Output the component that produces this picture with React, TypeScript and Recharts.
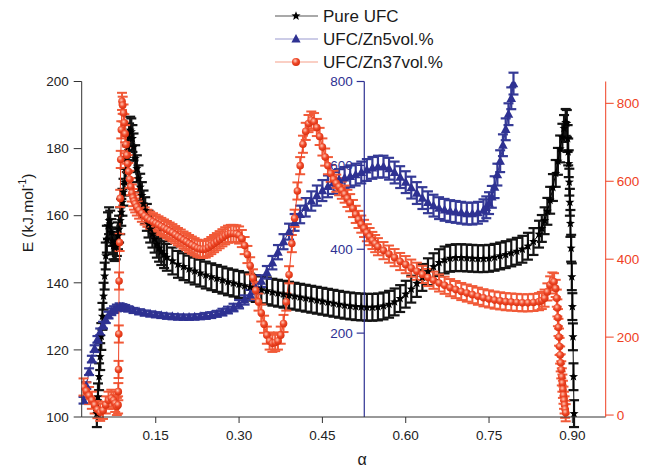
import React from 'react';
import { ComposedChart, Line, XAxis, YAxis, ErrorBar, ReferenceLine } from 'recharts';

// [alpha, E (kJ/mol)], left axis
const PURE_UFC: [number, number][] = [
  [0.044, 101], [0.046, 106], [0.048, 112], [0.05, 118], [0.052, 124], [0.054, 130], [0.056, 136],
  [0.058, 142], [0.06, 148], [0.062, 153], [0.064, 157], [0.066, 158.5], [0.068, 157.5], [0.07, 155],
  [0.072, 152.5], [0.074, 151], [0.076, 150.5], [0.078, 151], [0.08, 152], [0.082, 154], [0.084, 156],
  [0.086, 158.5], [0.088, 161], [0.09, 164], [0.092, 167], [0.094, 170], [0.096, 173.5], [0.098, 177],
  [0.1, 180.5], [0.102, 183.5], [0.104, 185.5], [0.106, 185], [0.108, 183], [0.11, 180.5], [0.113, 177],
  [0.116, 174], [0.119, 171], [0.122, 168.5], [0.125, 166], [0.128, 163.5], [0.131, 161.5], [0.134, 159.5],
  [0.137, 157.5], [0.14, 156], [0.144, 154.5], [0.148, 153], [0.152, 151.5], [0.156, 150.3], [0.16, 149.3],
  [0.165, 148.4], [0.17, 147.6], [0.18, 146.5], [0.19, 145.5], [0.2, 144.8], [0.21, 144.1], [0.22, 143.5],
  [0.23, 142.9], [0.24, 142.3], [0.25, 141.8], [0.26, 141.3], [0.27, 140.8], [0.28, 140.3], [0.29, 139.9],
  [0.3, 139.5], [0.31, 139.1], [0.32, 138.7], [0.33, 138.3], [0.34, 137.9], [0.35, 137.6], [0.36, 137.2],
  [0.37, 136.9], [0.38, 136.6], [0.39, 136.3], [0.4, 136], [0.41, 135.7], [0.42, 135.4], [0.43, 135.1],
  [0.44, 134.8], [0.45, 134.5], [0.46, 134.2], [0.47, 133.9], [0.48, 133.6], [0.49, 133.3], [0.5, 133.1],
  [0.51, 132.9], [0.52, 132.8], [0.53, 132.7], [0.54, 132.7], [0.55, 132.8], [0.56, 133.1], [0.57, 133.6],
  [0.58, 134.3], [0.59, 135.3], [0.6, 136.6], [0.61, 138.1], [0.62, 139.8], [0.63, 141.6], [0.64, 143.3],
  [0.65, 144.8], [0.66, 146], [0.67, 146.8], [0.68, 147.3], [0.69, 147.5], [0.7, 147.5], [0.71, 147.4],
  [0.72, 147.3], [0.73, 147.2], [0.74, 147.2], [0.75, 147.3], [0.76, 147.6], [0.77, 148], [0.78, 148.4],
  [0.79, 148.9], [0.8, 149.4], [0.81, 150], [0.82, 150.9], [0.83, 152.3], [0.84, 154.5], [0.845, 156.2],
  [0.85, 158.5], [0.855, 161.3], [0.86, 164.6], [0.865, 168.4], [0.87, 172.6], [0.874, 176.2], [0.878, 179.9],
  [0.882, 183.4], [0.885, 186], [0.888, 187.8], [0.89, 187.5], [0.8915, 183], [0.8925, 179], [0.8935, 175.5],
  [0.8945, 170], [0.8955, 164], [0.8965, 157.7], [0.8978, 150.3], [0.899, 141.8], [0.9, 132.9], [0.901, 123.9],
  [0.902, 112], [0.903, 101],
];

// [alpha, E, error] on the middle (blue) axis
const UFC_ZN5: [number, number, number][] = [
  [0.02, 40, 8], [0.025, 75, 8], [0.03, 108, 8], [0.035, 138, 8], [0.04, 163, 8], [0.045, 185, 8],
  [0.05, 203, 8], [0.055, 219, 8], [0.06, 232, 8], [0.065, 243, 8], [0.07, 251, 8], [0.075, 256, 8],
  [0.08, 260, 8], [0.085, 263, 8], [0.09, 262, 7], [0.095, 260, 7], [0.1, 258, 6], [0.11, 254, 6],
  [0.12, 251, 6], [0.13, 248, 6], [0.14, 246, 6], [0.15, 244, 6], [0.16, 242, 6], [0.17, 240.5, 6],
  [0.18, 239.5, 6], [0.19, 238.5, 6], [0.2, 238, 6], [0.21, 238, 6], [0.22, 238.5, 6], [0.23, 239.5, 6],
  [0.24, 241, 7], [0.25, 243, 7], [0.26, 246, 7], [0.27, 250, 8], [0.28, 255, 8], [0.29, 261, 9],
  [0.3, 269, 10], [0.31, 279, 11], [0.32, 291, 12], [0.33, 306, 13], [0.34, 324, 14], [0.35, 345, 15],
  [0.36, 368, 16], [0.37, 393, 17], [0.38, 418, 18], [0.39, 442, 19], [0.4, 464, 20], [0.41, 483, 21],
  [0.42, 500, 22], [0.43, 515, 23], [0.44, 528, 24], [0.45, 540, 25], [0.46, 550, 26], [0.47, 558, 26],
  [0.48, 565, 26], [0.49, 570, 26], [0.5, 574, 26], [0.51, 578, 26], [0.52, 583, 26], [0.53, 589, 26],
  [0.54, 594, 26], [0.55, 597, 26], [0.56, 597, 26], [0.57, 592, 26], [0.58, 583, 26], [0.59, 572, 26],
  [0.6, 560, 26], [0.61, 547, 26], [0.62, 534, 26], [0.63, 522, 26], [0.64, 512, 26], [0.65, 504, 26],
  [0.66, 498, 26], [0.67, 494, 26], [0.68, 491, 26], [0.69, 489, 26], [0.7, 487, 26], [0.71, 485, 26],
  [0.72, 485, 26], [0.73, 487, 26], [0.74, 493, 26], [0.745, 500, 26], [0.75, 510, 26], [0.755, 525, 26],
  [0.76, 548, 26], [0.765, 578, 26], [0.77, 610, 26], [0.775, 648, 26], [0.78, 686, 26], [0.785, 722, 26],
  [0.79, 760, 26], [0.794, 795, 26],
];

// [alpha, E] on the right (red) axis
const UFC_ZN37: [number, number][] = [
  [0.02, 72], [0.025, 62], [0.03, 50], [0.035, 38], [0.04, 26], [0.045, 14], [0.05, 7], [0.055, 12],
  [0.06, 26], [0.065, 38], [0.07, 43], [0.074, 38], [0.077, 30], [0.08, 22], [0.0822, 26], [0.0826, 60],
  [0.083, 117], [0.0835, 208], [0.084, 344], [0.085, 443], [0.086, 556], [0.087, 656], [0.088, 732],
  [0.0893, 805], [0.0905, 795], [0.092, 775], [0.0935, 750], [0.095, 722], [0.0965, 694], [0.098, 667],
  [0.0995, 645], [0.101, 625], [0.103, 605], [0.105, 586], [0.107, 570], [0.109, 558], [0.111, 549],
  [0.113, 542], [0.116, 534], [0.12, 526], [0.125, 518], [0.13, 511], [0.135, 505], [0.14, 500],
  [0.145, 496], [0.15, 492], [0.155, 488], [0.16, 484], [0.165, 480], [0.17, 476], [0.175, 472],
  [0.18, 468], [0.185, 463], [0.19, 458], [0.195, 454], [0.2, 449], [0.205, 445], [0.21, 440],
  [0.215, 436], [0.22, 432], [0.225, 428], [0.23, 426], [0.235, 425], [0.24, 426], [0.245, 430],
  [0.25, 435], [0.255, 440], [0.26, 445], [0.265, 450], [0.27, 455], [0.275, 460], [0.28, 464],
  [0.285, 466], [0.29, 466], [0.295, 465], [0.3, 462], [0.305, 453], [0.31, 435], [0.315, 412],
  [0.32, 383], [0.325, 352], [0.33, 320], [0.335, 290], [0.34, 262], [0.345, 233], [0.35, 205],
  [0.355, 190], [0.36, 184], [0.365, 186], [0.37, 190], [0.375, 205], [0.38, 235], [0.385, 290],
  [0.39, 360], [0.395, 440], [0.4, 505], [0.405, 575], [0.41, 640], [0.415, 695], [0.42, 728],
  [0.425, 748], [0.43, 757], [0.435, 753], [0.44, 738], [0.445, 715], [0.45, 688], [0.455, 662],
  [0.46, 640], [0.465, 620], [0.47, 605], [0.475, 595], [0.48, 586], [0.485, 577], [0.49, 567],
  [0.495, 556], [0.5, 545], [0.505, 530], [0.51, 515], [0.515, 502], [0.52, 490], [0.525, 479],
  [0.53, 468], [0.535, 458], [0.54, 448], [0.545, 440], [0.55, 432], [0.56, 422], [0.57, 413],
  [0.58, 404], [0.59, 394], [0.6, 386], [0.61, 377], [0.62, 369], [0.63, 361], [0.64, 353],
  [0.65, 346], [0.66, 339], [0.67, 333], [0.68, 327], [0.69, 322], [0.7, 317], [0.71, 313],
  [0.72, 309], [0.73, 305], [0.74, 301], [0.75, 298], [0.76, 295], [0.77, 293], [0.78, 291],
  [0.79, 290], [0.8, 289], [0.81, 288], [0.82, 288], [0.83, 289], [0.84, 291], [0.845, 294],
  [0.85, 300], [0.855, 316], [0.86, 334], [0.864, 344], [0.867, 342], [0.87, 325], [0.872, 300],
  [0.873, 275], [0.874, 250], [0.875, 225], [0.876, 200], [0.877, 176], [0.878, 154], [0.879, 134],
  [0.88, 116], [0.881, 98], [0.882, 82], [0.883, 66], [0.884, 51], [0.885, 38], [0.886, 26],
  [0.887, 15], [0.888, 6],
];

const PURE_ERR = 4;
const ZN37_ERR = 22;

const X_TICKS = [0.15, 0.3, 0.45, 0.6, 0.75, 0.9];
const E_TICKS = [100, 120, 140, 160, 180, 200];
const ZN5_TICKS = [200, 400, 600, 800];
const ZN37_TICKS = [0, 200, 400, 600, 800];
const SERIES_NAMES = ['Pure UFC', 'UFC/Zn5vol.%', 'UFC/Zn37vol.%'];
const MID_AXIS_ALPHA = 0.5254;

const BLACK = '#000000';
const BLUE = '#2e3192';
const RED = '#ef4123';
const AXIS = '#333333';

const pureData = PURE_UFC.map(([a, e]) => ({ a, e, err: PURE_ERR }));
const zn5Data = UFC_ZN5.map(([a, e, err]) => ({ a, e, err }));
const zn37Data = UFC_ZN37.map(([a, e]) => ({ a, e, err: ZN37_ERR }));

function starPoints(cx: number, cy: number, r: number) {
    const pts: string[] = [];
    for (let i = 0; i < 10; i++) {
        const rad = i % 2 === 0 ? r : r * 0.42;
        const ang = -Math.PI / 2 + (i * Math.PI) / 5;
        pts.push(`${cx + rad * Math.cos(ang)},${cy + rad * Math.sin(ang)}`);
    }
    return pts.join(' ');
}

const starDot = (p: any) => {
    if (p.cx == null || p.cy == null) return <g key={p.index} />;
    return <polygon key={p.index} points={starPoints(p.cx, p.cy, 4.8)} fill={BLACK} />;
};

const triDot = (p: any) => {
    if (p.cx == null || p.cy == null) return <g key={p.index} />;
    const { cx, cy } = p;
    return (
        <polygon
            key={p.index}
            points={`${cx},${cy - 5.2} ${cx - 4.8},${cy + 3.6} ${cx + 4.8},${cy + 3.6}`}
            fill={BLUE}
        />
    );
};

const ballDot = (p: any) => {
    if (p.cx == null || p.cy == null) return <g key={p.index} />;
    return <circle key={p.index} cx={p.cx} cy={p.cy} r={3.8} fill="url(#redBall)" />;
};

function LegendBox() {
    const rows = [16, 39, 62];
    const lineColors = ['#555555', '#9a9ad0', '#f6a08a'];
    return (
        <svg width={652} height={80} style={{ position: 'absolute', left: 0, top: 0 }}>
            <defs>
                <radialGradient id="legBall" cx="40%" cy="35%" r="65%">
                    <stop offset="0%" stopColor="#ffd2c2" />
                    <stop offset="50%" stopColor="#f0492a" />
                    <stop offset="100%" stopColor="#d8300f" />
                </radialGradient>
            </defs>
            {SERIES_NAMES.map((name, i) => {
                const y = rows[i];
                return (
                    <g key={name}>
                        <line x1={275} x2={318} y1={y} y2={y} stroke={lineColors[i]} strokeWidth={1.2} />
                        {i === 0 && <polygon points={starPoints(296, y, 4.8)} fill={BLACK} />}
                        {i === 1 && (
                            <polygon points={`296,${y - 5} ${291.4},${y + 3.4} ${300.6},${y + 3.4}`} fill={BLUE} />
                        )}
                        {i === 2 && <circle cx={296} cy={y} r={4} fill="url(#legBall)" />}
                        <text x={323} y={y} dominantBaseline="central" fontSize={17} fill="#1a1a1a">
                            {name}
                        </text>
                    </g>
                );
            })}
        </svg>
    );
}

export default function App() {
    return (
        <div
            style={{
                position: 'absolute',
                left: 0,
                top: 0,
                width: 652,
                height: 468,
                background: '#fff',
                fontFamily: "'Liberation Sans', Arial, sans-serif",
            }}
        >
            <ComposedChart width={652} height={468} margin={{ top: 81.5, right: 6.3, bottom: 21, left: 41.7 }}>
                <defs>
                    <radialGradient id="redBall" cx="40%" cy="35%" r="65%">
                        <stop offset="0%" stopColor="#ffc8b4" />
                        <stop offset="50%" stopColor="#f0492a" />
                        <stop offset="100%" stopColor="#d8300f" />
                    </radialGradient>
                </defs>
                <XAxis
                    type="number"
                    dataKey="a"
                    domain={[0.0167, 0.96]}
                    ticks={X_TICKS}
                    tickFormatter={(v: number) => v.toFixed(2)}
                    allowDataOverflow
                    stroke={AXIS}
                    tickSize={6}
                    tickMargin={7}
                    tick={{ fill: '#222', fontSize: 13.5 }}
                    height={30}
                />
                <YAxis
                    yAxisId="left"
                    domain={[100, 200]}
                    ticks={E_TICKS}
                    allowDataOverflow
                    stroke={AXIS}
                    tickSize={8}
                    tickMargin={5}
                    tick={{ fill: '#222', fontSize: 13.5 }}
                    width={40}
                />
                <YAxis yAxisId="blue" orientation="right" domain={[0, 800]} allowDataOverflow hide width={0} />
                <YAxis
                    yAxisId="red"
                    orientation="right"
                    domain={[-5, 856]}
                    ticks={ZN37_TICKS}
                    allowDataOverflow
                    stroke={RED}
                    tickSize={8}
                    tickMargin={3}
                    tick={{ fill: RED, fontSize: 13.5 }}
                    width={40}
                />
                <Line
                    yAxisId="left"
                    data={pureData}
                    dataKey="e"
                    stroke={BLACK}
                    strokeWidth={1}
                    dot={starDot}
                    activeDot={false}
                    isAnimationActive={false}
                >
                    <ErrorBar dataKey="err" width={5} stroke="#141414" strokeWidth={2.2} direction="y" />
                </Line>
                <Line
                    yAxisId="blue"
                    data={zn5Data}
                    dataKey="e"
                    stroke={BLUE}
                    strokeWidth={1}
                    dot={triDot}
                    activeDot={false}
                    isAnimationActive={false}
                >
                    <ErrorBar dataKey="err" width={5} stroke="#353a96" strokeWidth={2.2} direction="y" />
                </Line>
                <Line
                    yAxisId="red"
                    data={zn37Data}
                    dataKey="e"
                    stroke={RED}
                    strokeWidth={1}
                    dot={ballDot}
                    activeDot={false}
                    isAnimationActive={false}
                >
                    <ErrorBar dataKey="err" width={5} stroke="#f15a38" strokeWidth={2} direction="y" />
                </Line>
                <ReferenceLine yAxisId="blue" x={MID_AXIS_ALPHA} stroke={BLUE} strokeWidth={1.2} />
                {ZN5_TICKS.map((v) => (
                    <ReferenceLine
                        key={v}
                        yAxisId="blue"
                        segment={[
                            { x: MID_AXIS_ALPHA - 0.0137, y: v },
                            { x: MID_AXIS_ALPHA, y: v },
                        ]}
                        stroke={BLUE}
                        strokeWidth={1.2}
                        label={{ value: String(v), position: 'left', fill: BLUE, fontSize: 13.5, offset: 4 }}
                    />
                ))}
            </ComposedChart>
            <LegendBox />
            <div
                style={{
                    position: 'absolute',
                    left: 27,
                    top: 213,
                    transform: 'translate(-50%, -50%) rotate(-90deg)',
                    whiteSpace: 'nowrap',
                    fontSize: 15.5,
                    color: '#1a1a1a',
                }}
            >
                E (kJ.mol<sup style={{ fontSize: '0.65em' }}>-1</sup>)
            </div>
            <div
                style={{
                    position: 'absolute',
                    left: 362,
                    top: 460,
                    transform: 'translate(-50%, -50%)',
                    fontSize: 16,
                    color: '#1a1a1a',
                }}
            >
                α
            </div>
        </div>
    );
}
